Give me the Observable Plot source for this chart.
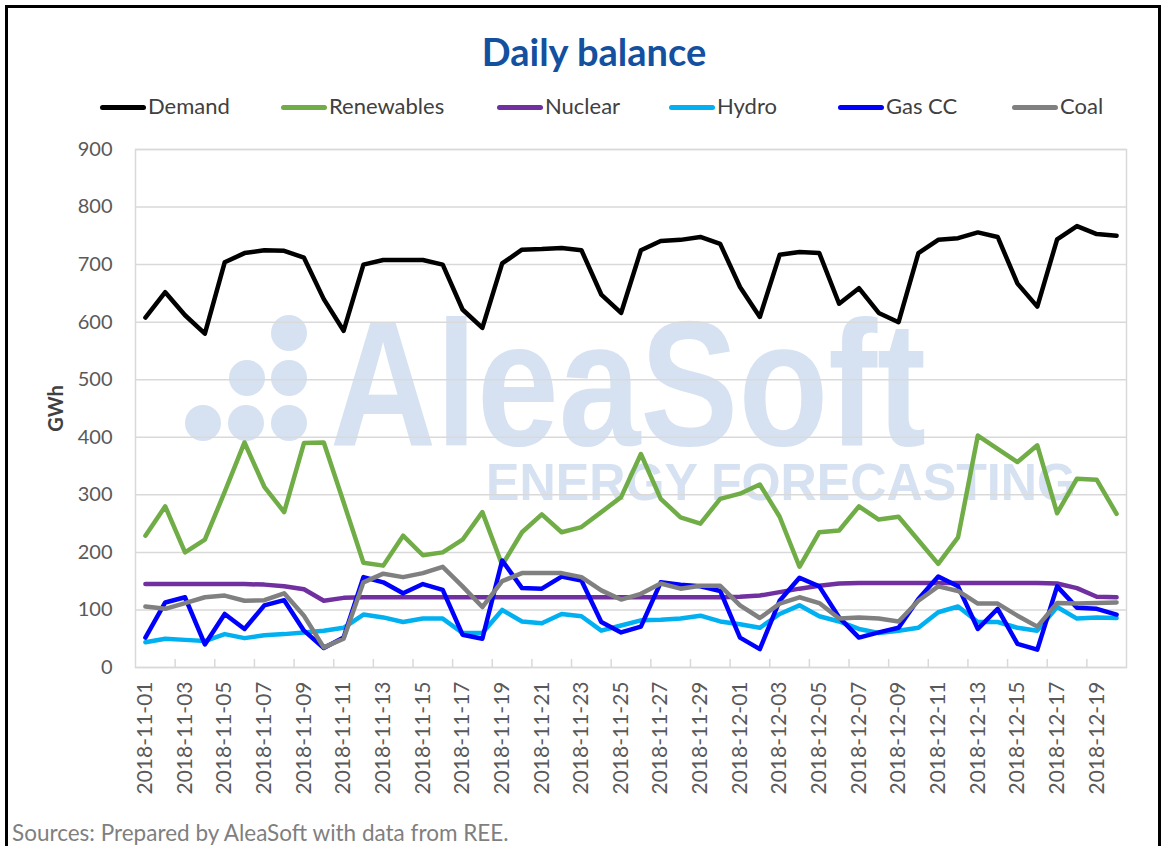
<!DOCTYPE html>
<html>
<head>
<meta charset="utf-8">
<script src="https://cdn.jsdelivr.net/npm/d3@7"></script>
<script src="https://cdn.jsdelivr.net/npm/@observablehq/plot@0.6"></script>
<style>
  html, body { margin: 0; padding: 0; background: #fff; }
  #page { position: relative; width: 1166px; height: 846px; overflow: hidden; font-family: Lato, "Open Sans", sans-serif; background: #fff; }
  #frame { position: absolute; left: 5px; top: 5px; width: 1150px; height: 900px; border: 3px solid #000; }
  #title { position: absolute; left: 0; width: 1188px; top: 32px; text-align: center; font-weight: 700; font-size: 38px; line-height: 1; color: #1450a0; }
  #legend { position: absolute; left: 0; top: 0; width: 1166px; height: 130px; }
  .item { position: absolute; top: 94px; font-size: 22px; line-height: 24px; color: #404040; white-space: nowrap; }
  .sw { display: inline-block; width: 46px; height: 5px; border-radius: 3px; vertical-align: middle; margin-right: 2px; position: relative; top: -1px; }
  #wm { position: absolute; left: 0; top: 0; }
  #chart { position: absolute; left: 0; top: 130px; }
  #caption { position: absolute; left: 12px; top: 821px; font-size: 22.5px; color: #7f7f7f; line-height: 24px; white-space: nowrap; }
  #chart svg [aria-label="y-axis label"] text, #chart svg [aria-label="y-axis label"] { font-weight: 700; fill: #404040; }
</style>
</head>
<body>
<div id="page">
  <svg id="wm" width="1166" height="846" aria-hidden="true">
    <g fill="#d6e2f1">
      <circle cx="289" cy="333" r="18"></circle>
      <circle cx="247" cy="378" r="18"></circle>
      <circle cx="289" cy="378" r="18"></circle>
      <circle cx="203" cy="423" r="18"></circle>
      <circle cx="246" cy="423" r="18"></circle>
      <circle cx="289" cy="423" r="18"></circle>
      <text font-family="Liberation Sans, Arial, sans-serif" font-weight="700"><tspan x="330" y="445" font-size="178" textLength="596" lengthAdjust="spacingAndGlyphs">AleaSoft</tspan><tspan x="486" y="500" font-size="52" textLength="590" lengthAdjust="spacingAndGlyphs">ENERGY FORECASTING</tspan></text>
    </g>
  </svg>
  <div id="frame"></div>
  <div id="title">Daily balance</div>
  <div id="legend"></div>
  <div id="chart"></div>
  <div id="caption">Sources: Prepared by AleaSoft with data from REE.</div>
</div>
<script>
// ---- Data (GWh) ----
const dates = [
  "2018-11-01","2018-11-02","2018-11-03","2018-11-04","2018-11-05","2018-11-06","2018-11-07","2018-11-08","2018-11-09","2018-11-10",
  "2018-11-11","2018-11-12","2018-11-13","2018-11-14","2018-11-15","2018-11-16","2018-11-17","2018-11-18","2018-11-19","2018-11-20",
  "2018-11-21","2018-11-22","2018-11-23","2018-11-24","2018-11-25","2018-11-26","2018-11-27","2018-11-28","2018-11-29","2018-11-30",
  "2018-12-01","2018-12-02","2018-12-03","2018-12-04","2018-12-05","2018-12-06","2018-12-07","2018-12-08","2018-12-09","2018-12-10",
  "2018-12-11","2018-12-12","2018-12-13","2018-12-14","2018-12-15","2018-12-16","2018-12-17","2018-12-18","2018-12-19","2018-12-20"
];
const demand = [608,652,612,580,704,720,725,724,712,640,585,700,708,708,708,700,622,590,702,726,727,729,725,648,616,725,741,743,748,736,661,609,717,722,720,632,659,616,600,720,743,746,756,748,667,627,744,767,753,750];
const renewables = [229,280,200,222,305,391,314,270,390,391,287,182,177,229,195,200,222,270,178,235,266,235,244,270,296,371,293,261,250,293,302,318,262,175,235,238,280,257,262,221,180,226,403,380,357,386,268,328,326,267];
const nuclear = [145,145,145,145,145,145,144,141,136,116,121,122,122,122,122,122,122,122,122,122,122,122,122,122,122,122,122,122,122,122,123,125,131,137,142,146,147,147,147,147,147,147,147,147,147,147,146,138,123,122];
const hydro = [44,50,48,46,58,51,56,58,61,64,69,92,87,79,85,85,60,60,100,80,77,93,89,64,73,82,83,85,90,80,75,69,93,108,89,80,67,60,64,69,96,106,79,79,69,64,105,85,87,86];
const gasCC = [52,113,122,40,93,67,108,117,64,34,52,157,148,129,145,135,57,50,186,138,137,158,151,79,61,71,148,144,141,133,52,32,116,156,141,87,52,61,69,119,158,141,67,102,41,31,141,104,102,92];
const coal = [106,102,112,122,125,116,117,129,90,35,50,148,163,157,164,175,141,105,150,164,164,164,157,134,118,128,146,137,142,142,108,86,111,122,112,85,87,85,80,116,141,133,111,111,90,71,112,111,112,113];

const seriesNames = ["Demand", "Renewables", "Nuclear", "Hydro", "Gas CC", "Coal"];
const seriesColors = ["#000000", "#70ad47", "#7030a0", "#00b0f0", "#0000ff", "#808080"];
const seriesValues = [demand, renewables, nuclear, hydro, gasCC, coal];
const yTicks = [0, 100, 200, 300, 400, 500, 600, 700, 800, 900];

// ---- Build table ----
const parsed = dates.map(s => new Date(s + "T00:00:00Z"));
const table = [];
seriesNames.forEach((name, k) => {
  seriesValues[k].forEach((v, i) => table.push({series: name, date: parsed[i], value: v}));
});

const labelDates = parsed.filter((d, i) => i % 2 === 0);
const boundaries = parsed.filter((d, i) => i % 2 === 1 && i < parsed.length - 1).map(d => d3.utcHour.offset(d, 12));
const xDomain = [d3.utcHour.offset(parsed[0], -12), d3.utcHour.offset(parsed[parsed.length - 1], 12)];

// ---- Legend ----
const legendLeft = [100, 281, 497, 669, 838, 1012];
const legend = document.getElementById("legend");
seriesNames.forEach((name, k) => {
  const div = document.createElement("div");
  div.className = "item";
  div.style.left = legendLeft[k] + "px";
  const sw = document.createElement("span");
  sw.className = "sw";
  sw.style.background = seriesColors[k];
  div.appendChild(sw);
  div.appendChild(document.createTextNode(name));
  legend.appendChild(div);
});

// ---- Chart ----
const H = 680, mTop = 19, mBottom = 143;
const chart = Plot.plot({
  width: 1166,
  height: H,
  marginLeft: 135,
  marginRight: 40,
  marginTop: mTop,
  marginBottom: mBottom,
  style: {background: "transparent", fontFamily: "Lato, 'Open Sans', sans-serif", color: "#595959", overflow: "visible"},
  x: {type: "utc", domain: xDomain},
  y: {domain: [0, 900]},
  color: {domain: seriesNames, range: seriesColors},
  marks: [
    Plot.gridY(yTicks, {stroke: "#d9d9d9", strokeOpacity: 1, strokeWidth: 1.5}),
    Plot.frame({stroke: "#d9d9d9", strokeWidth: 1.5}),
    Plot.ruleX(boundaries, {stroke: "#d9d9d9", strokeWidth: 1.5, insetTop: H - mTop - mBottom - 8}),
    Plot.axisY({ticks: yTicks, tickSize: 0, tickPadding: 23, fontSize: 20, label: "GWh", labelAnchor: "center", labelArrow: false, labelOffset: 87}),
    Plot.axisX({ticks: labelDates, tickSize: 0, tickPadding: 14, tickRotate: -90, fontSize: 21, tickFormat: d3.utcFormat("%Y-%m-%d"), label: null}),
    Plot.line(table, {x: "date", y: "value", z: "series", stroke: "series", strokeWidth: 4.5, strokeLinejoin: "round", strokeLinecap: "round"})
  ]
});
document.getElementById("chart").appendChild(chart);
</script>
</body>
</html>
